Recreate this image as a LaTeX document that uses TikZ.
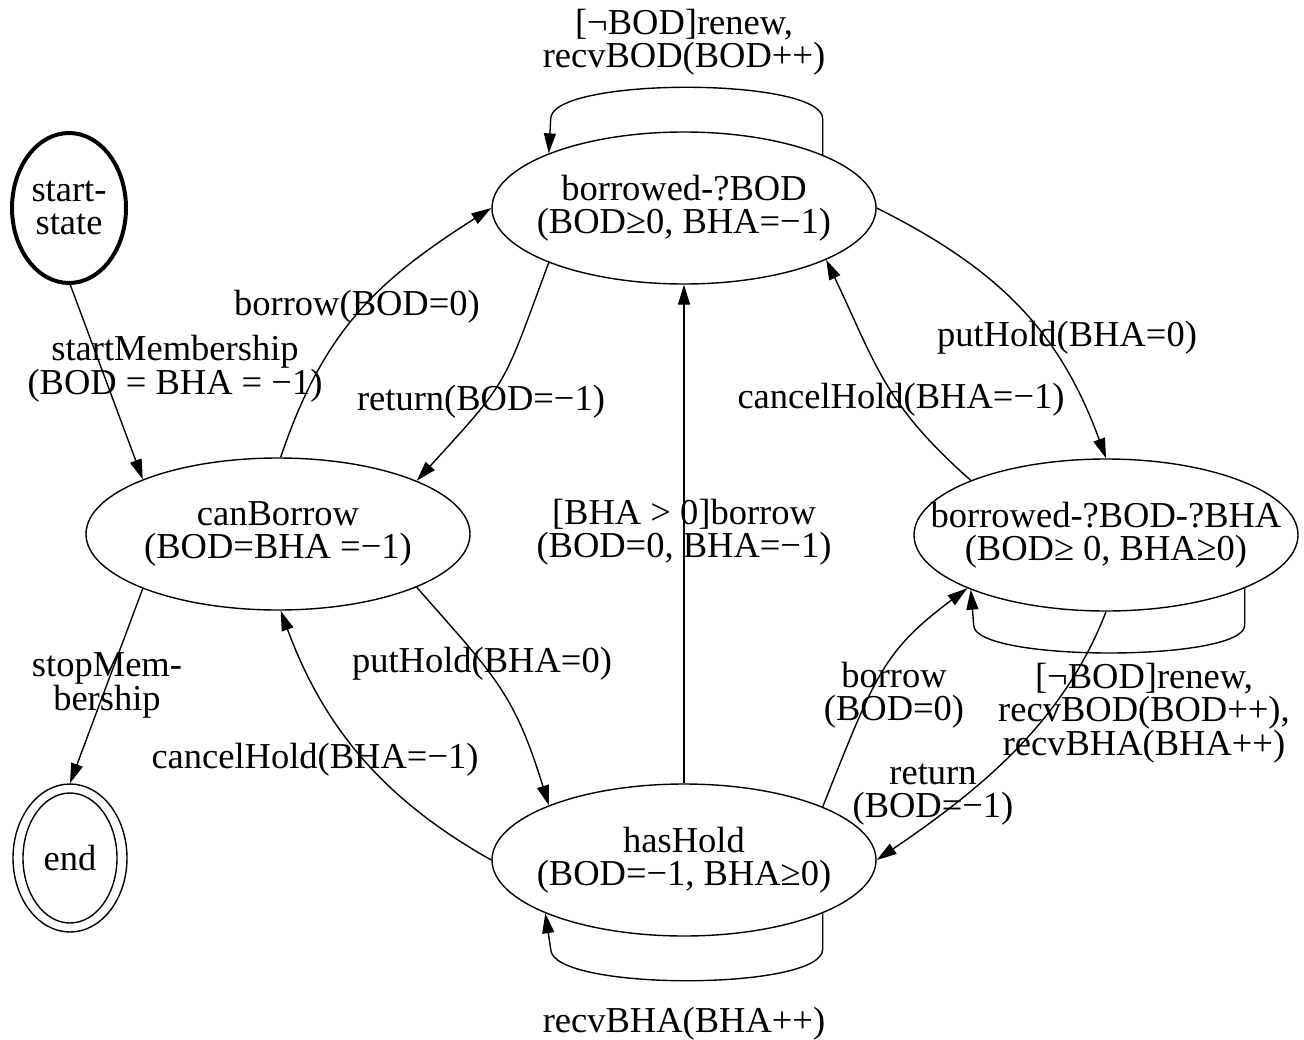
\documentclass[tikz,border=0pt]{standalone}
\usepackage{fontspec}
\setmainfont{Liberation Serif}
\usetikzlibrary{shapes.geometric,arrows.meta}
\begin{document}
\begin{tikzpicture}[x=1pt,y=-1pt,
  every node/.style={font=\fontsize{36.5}{33}\selectfont, align=center},
  st8/.style={draw, ellipse, line width=1.4pt, minimum width=384pt, minimum height=152pt, inner xsep=-130pt, inner ysep=0pt},
  edge/.style={line width=1.4pt, -{Triangle[length=20pt,width=12pt]}},
  lbl/.style={inner sep=0pt}]
\fill[white] (0,0) rectangle (1304,1039);
\useasboundingbox (0,0) rectangle (1304,1039);

% states
\node[st8] (bod) at (684,208) {borrowed-?BOD\\(BOD≥0, BHA=−1)};
\node[st8] (cb) at (278,534) {canBorrow\\(BOD=BHA =−1)};
\node[st8] (bb) at (1106,535) {borrowed-?BOD-?BHA\\(BOD≥ 0, BHA≥0)};
\node[st8] (hh) at (684,860) {hasHold\\(BOD=−1, BHA≥0)};
\node[draw, ellipse, line width=4pt, minimum width=114pt, minimum height=150pt, inner sep=0pt] (st) at (69,208) {start-\\state};
\node[draw, ellipse, line width=1.4pt, minimum width=114pt, minimum height=148pt, inner sep=0pt] (en) at (70,858) {};
\node[draw, ellipse, line width=1.4pt, minimum width=94pt, minimum height=130pt, inner sep=0pt] (eni) at (70,858) {end};

% transitions
\draw[edge] (st.-89) -- (cb.158);
\draw[edge] (cb.88) .. controls +(43,-128) and +(-113,72) .. (bod.180);
\draw[edge] (bod.202) .. controls +(-47,126) and +(94,-103) .. (cb.21.2);
\draw[edge] (cb.-21.6) .. controls +(77,88) and +(-35,-114) .. (hh.158.8);
\draw[edge] (hh.180) .. controls +(-107,-60) and +(43,117) .. (cb.-88);
\draw[edge] (cb.202.5) -- (en.90);
\draw[edge] (hh.90) -- (bod.-90);
\draw[edge] (bod.0) .. controls +(120,60) and +(-47,-129) .. (bb.90);
\draw[edge] (bb.158.1) .. controls +(-87,-77) and +(50,105) .. (bod.-20.7);
\draw[edge] (hh.21.1) .. controls +(53,-133) and +(-84,63) .. (bb.201.7);
\draw[edge] (bb.-90) .. controls +(-42,109) and +(106,-72) .. (hh.0);

% self loops
\draw[edge] (bod.21.5) -- ++(0,-36) .. controls +(0,-42) and +(0,-42) .. ++(-272,0) -- (bod.158.5);
\draw[edge] (bb.-21.9) -- ++(0,37) .. controls +(0,37) and +(0,37) .. ++(-271,0) -- (bb.202.2);
\draw[edge] (hh.-21.5) -- ++(0,36) .. controls +(0,42) and +(0,42) .. ++(-272,0) -- (hh.201.5);

% labels
\node[lbl] (lbodloop) at (684,42) {[¬BOD]renew,\\recvBOD(BOD++)};
\node[lbl] (lstart) at (175,369) {startMembership\\(BOD = BHA = −1)};
\node[lbl] (lborrow) at (357,307) {borrow(BOD=0)};
\node[lbl] (lreturn) at (481,402) {return(BOD=−1)};
\node[lbl] (lvert) at (684,532) {[BHA > 0]borrow\\(BOD=0, BHA=−1)};
\node[lbl] (lputr) at (1067,338) {putHold(BHA=0)};
\node[lbl] (lcancr) at (901,400) {cancelHold(BHA=−1)};
\node[lbl] (lstop) at (107,685) {stopMem-\\bership};
\node[lbl] (lputl) at (482,664) {putHold(BHA=0)};
\node[lbl] (lcancl) at (315,760) {cancelHold(BHA=−1)};
\node[lbl] (lborr) at (894,695) {borrow\\(BOD=0)};
\node[lbl] (lretr) at (933,795) {return\\(BOD=−1)};
\node[lbl] (lbbloop) at (1144,713) {[¬BOD]renew,\\recvBOD(BOD++),\\recvBHA(BHA++)};
\node[lbl] (lhhloop) at (684,1024) {recvBHA(BHA++)};
\end{tikzpicture}
\end{document}
